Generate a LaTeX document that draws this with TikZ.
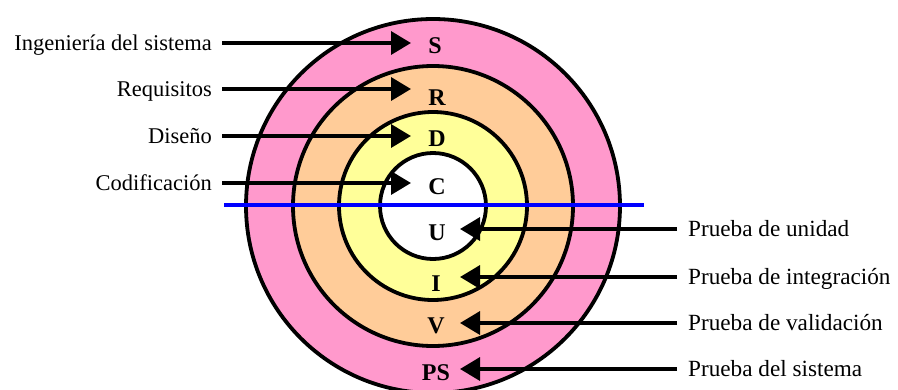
\documentclass[tikz,border=0pt]{standalone}
\usepackage{fontspec}
\setmainfont{Liberation Serif}
\usetikzlibrary{arrows.meta}

\definecolor{rosa}{RGB}{255,153,204}
\definecolor{naranja}{RGB}{255,204,153}
\definecolor{amarillo}{RGB}{255,255,153}

\begin{document}
\begin{tikzpicture}[x=1pt,y=-1pt,
    ring/.style={draw=black,line width=3.8pt},
    flecha/.style={line width=3.4pt,-{Triangle[length=20pt,width=23pt]}},
    letra/.style={font=\fontsize{24}{24}\selectfont\bfseries,inner sep=0pt,
        text height=16pt,text depth=0pt},
    etiqueta/.style={font=\fontsize{22.5}{24}\selectfont,inner sep=0pt,
        text height=15pt,text depth=0pt}]
    \useasboundingbox (0,0) rectangle (898,389);

    \coordinate (o) at (433,206);
    \coordinate (tipL) at (411,0);
    \coordinate (tipR) at (460,0);
    \coordinate (b1) at (224,205);
    \coordinate (b2) at (644,205);

    % anillos
    \draw[ring,fill=rosa] (o) circle (187pt);
    \draw[ring,fill=naranja] (o) circle (140pt);
    \draw[ring,fill=amarillo] (o) circle (94pt);
    \draw[ring,fill=white] (o) circle (53pt);

    \draw[blue,line width=3.5pt] (b1) -- (b2);

    \foreach \n/\t/\x/\y in {S/S/435/45, R/R/437/97, D/D/437/138, C/C/437/186,
                            U/U/437/232, I/I/436/283, V/V/436/325, PS/PS/436/372} {
        \node[letra] (\n) at (\x,\y) {\t};
    }

    \foreach \n/\t/\y in {S/Ingeniería del sistema/43, R/Requisitos/89,
                          D/Diseño/136, C/Codificación/183} {
        \node[etiqueta,anchor=east] (l\n) at (212,\y) {\t};
        \draw[flecha] ([xshift=10pt]l\n.east) -- (l\n.east -| tipL);
    }

    \foreach \n/\t/\y in {U/Prueba de unidad/229, I/Prueba de integración/277,
                          V/Prueba de validación/323, PS/Prueba del sistema/369} {
        \node[etiqueta,anchor=west,font=\fontsize{23.2}{24}\selectfont] (l\n) at (688,\y) {\t};
        \draw[flecha] ([xshift=-11pt]l\n.west) -- (l\n.west -| tipR);
    }
\end{tikzpicture}
\end{document}
